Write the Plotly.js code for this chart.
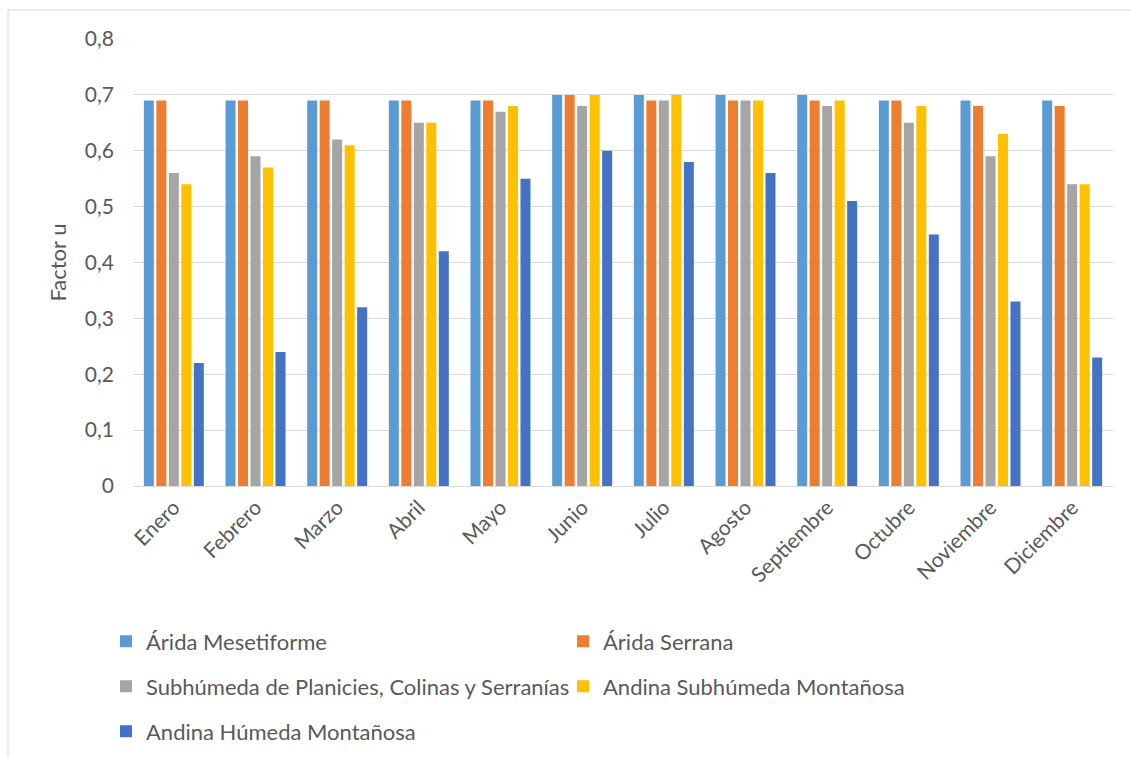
<!DOCTYPE html>
<html>
<head>
<meta charset="utf-8">
<script src="https://cdn.plot.ly/plotly-3.0.1.min.js"></script>
<style>
  html, body { margin: 0; padding: 0; background: #ffffff; }
  #chart { width: 1131px; height: 758px; }
</style>
</head>
<body>
<div id="chart"></div>
<script>
// Monthly factor u per region
const months = ['Enero', 'Febrero', 'Marzo', 'Abril', 'Mayo', 'Junio', 'Julio',
                'Agosto', 'Septiembre', 'Octubre', 'Noviembre', 'Diciembre'];

const aridaMesetiforme = [0.69, 0.69, 0.69, 0.69, 0.69, 0.70, 0.70, 0.70, 0.70, 0.69, 0.69, 0.69];
const aridaSerrana     = [0.69, 0.69, 0.69, 0.69, 0.69, 0.70, 0.69, 0.69, 0.69, 0.69, 0.68, 0.68];
const subhumedaPCS     = [0.56, 0.59, 0.62, 0.65, 0.67, 0.68, 0.69, 0.69, 0.68, 0.65, 0.59, 0.54];
const andinaSubhumeda  = [0.54, 0.57, 0.61, 0.65, 0.68, 0.70, 0.70, 0.69, 0.69, 0.68, 0.63, 0.54];
const andinaHumeda     = [0.22, 0.24, 0.32, 0.42, 0.55, 0.60, 0.58, 0.56, 0.51, 0.45, 0.33, 0.23];

const seriesNames = ['Árida Mesetiforme', 'Árida Serrana',
                     'Subhúmeda de Planicies, Colinas y Serranías',
                     'Andina Subhúmeda Montañosa', 'Andina Húmeda Montañosa'];
const seriesValues = [aridaMesetiforme, aridaSerrana, subhumedaPCS, andinaSubhumeda, andinaHumeda];
const seriesColors = ['#5B9BD5', '#ED7D31', '#A5A5A5', '#FFC000', '#4472C4'];
const seriesLegend = ['legend', 'legend', 'legend2', 'legend2', 'legend3'];

const W = 1131, H = 758;
const M = { l: 133, r: 18, t: 39, b: 272 };
const plotW = W - M.l - M.r;
const plotH = H - M.t - M.b;

// pixel -> paper / container helpers
const px = x => (x - M.l) / plotW;
const py = y => (H - M.b - y) / plotH;
const cx = x => x / W;
const cy = y => 1 - y / H;

const FONT = 'Lato, "Liberation Sans", sans-serif';
const TXT = '#595959';

const traces = seriesNames.map((name, i) => ({
  type: 'bar',
  name: name,
  x: months,
  y: seriesValues[i],
  marker: { color: seriesColors[i] },
  legend: seriesLegend[i],
  hoverinfo: 'x+y+name'
}));

const legendBase = {
  orientation: 'h',
  xref: 'container',
  yref: 'container',
  xanchor: 'left',
  yanchor: 'middle',
  x: cx(106),
  font: { family: FONT, size: 22, color: TXT },
  bgcolor: 'rgba(0,0,0,0)',
  itemwidth: 30,
  entrywidth: 412,
  entrywidthmode: 'pixels',
  traceorder: 'normal',
  itemclick: false,
  itemdoubleclick: false
};

const layout = {
  width: W,
  height: H,
  margin: M,
  paper_bgcolor: '#ffffff',
  plot_bgcolor: '#ffffff',
  font: { family: FONT, color: TXT },
  barmode: 'group',
  bargap: 0.235,
  bargroupgap: 0.2,
  xaxis: {
    type: 'category',
    tickangle: -45,
    tickfont: { family: FONT, size: 21, color: TXT },
    showgrid: false,
    showline: true,
    linecolor: '#D9D9D9',
    linewidth: 1,
    ticks: '',
    fixedrange: true
  },
  yaxis: {
    range: [0, 0.8],
    dtick: 0.1,
    tick0: 0,
    showgrid: true,
    gridcolor: '#D9D9D9',
    gridwidth: 1,
    zeroline: false,
    showline: false,
    ticks: '',
    ticklabelstandoff: 18,
    tickfont: { family: FONT, size: 21, color: TXT },
    title: { text: 'Factor u', font: { family: FONT, size: 22, color: TXT }, standoff: 12 },
    fixedrange: true
  },
  separators: ',.',
  showlegend: true,
  legend:  Object.assign({}, legendBase, { y: cy(641.5) }),
  legend2: Object.assign({}, legendBase, { y: cy(686.5) }),
  legend3: Object.assign({}, legendBase, { y: cy(731.5) }),
  shapes: [
    // chart frame
    { type: 'rect', xref: 'paper', yref: 'paper',
      x0: px(8), x1: px(1140), y0: py(770), y1: py(10),
      line: { color: '#D9D9D9', width: 1 }, fillcolor: 'rgba(0,0,0,0)', layer: 'below' }
  ]
};

Plotly.newPlot('chart', traces, layout, { displayModeBar: false, staticPlot: true });
</script>
</body>
</html>
